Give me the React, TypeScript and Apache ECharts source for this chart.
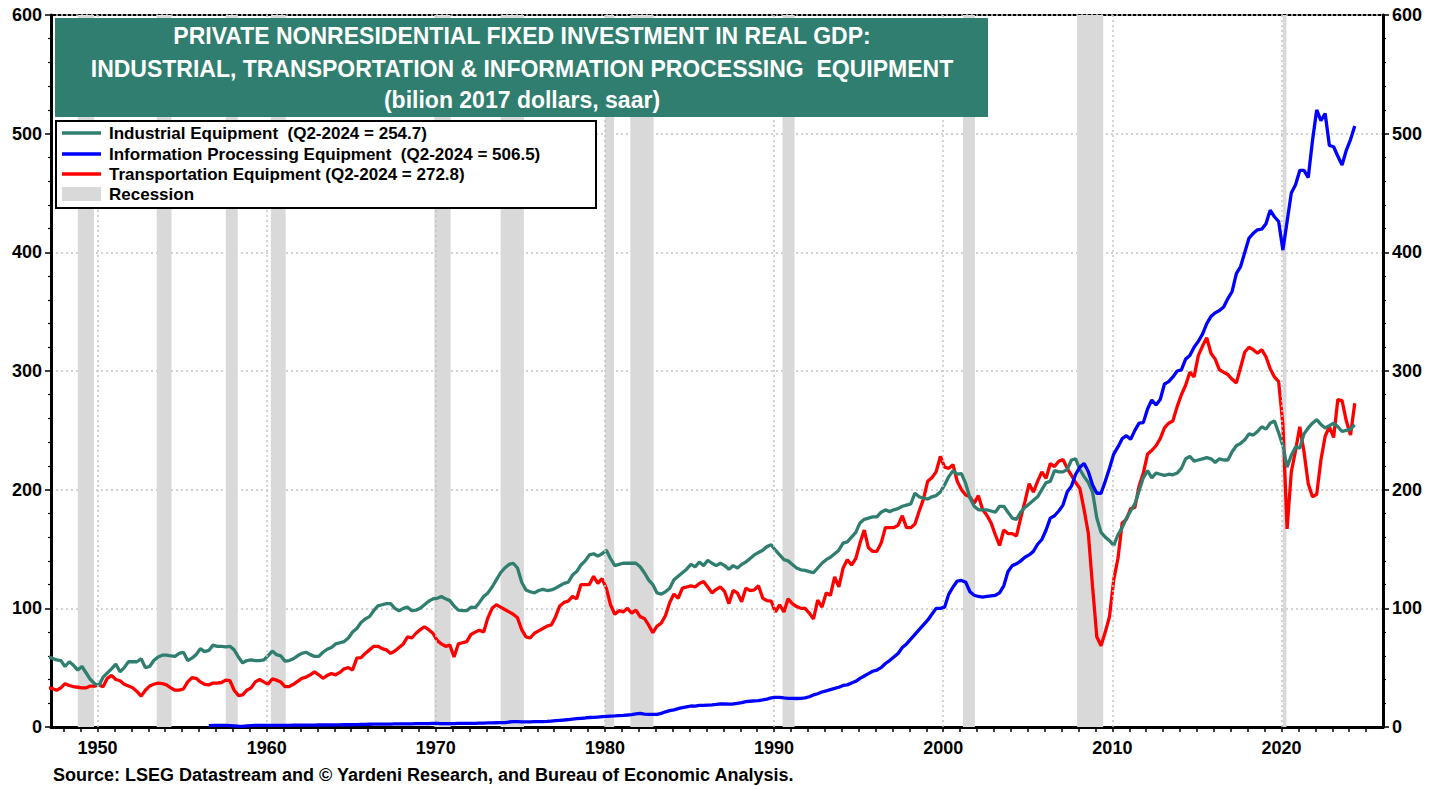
import React, { useEffect, useRef } from "react";
import * as echarts from "echarts";

// Quarterly values, 1947 Q1 .. 2024 Q2 (billion 2017 dollars, saar)
const INDUSTRIAL: number[] = [
  59, 58, 56.5, 56, 51, 55, 52, 48, 51, 45.5, 40, 36.5, 35, 42, 45.5, 49,
  53, 46.5, 50, 55, 55, 55, 57.5, 50, 51, 56, 59, 60.5, 60.5, 60, 59.5, 62,
  63, 56, 58, 61, 66, 63.5, 64.5, 69, 68, 68, 67.5, 68, 65, 59, 54, 56,
  56.5, 56, 56, 56.5, 60, 64, 61, 60, 55.5, 56, 57.5, 60, 62, 63, 61, 59.5,
  59.5, 63, 65.5, 67, 70, 71, 72, 75, 80, 83, 88, 91, 93, 98, 102, 103,
  104, 104, 100, 98, 100, 101, 98, 98.5, 100, 103, 106, 108, 108.5, 110, 108, 106.5,
  102, 98.5, 98, 98, 101, 100.5, 105, 110, 113, 118, 124, 130, 134, 137, 138, 134,
  122, 115.5, 114, 113, 115, 116, 115, 115.5, 117, 119, 121, 122, 128, 131, 136.5, 140,
  145, 146, 144, 146, 149, 142, 136, 137, 138, 138, 138, 138, 135, 130, 124, 120,
  113, 112, 114, 117, 124, 127, 130, 133, 137, 135, 139, 136, 140.5, 138, 136, 138,
  136, 133, 136, 134, 137, 139, 142, 145, 147, 149, 152, 153.5, 149, 145, 141, 140,
  137, 134, 132.5, 132, 131, 130, 134, 138, 141, 143, 146, 149, 155, 156, 160, 164,
  172, 175, 176, 177, 177, 181, 183, 181.5, 183, 184, 186, 187, 188, 197, 194, 193,
  192, 194, 195, 198, 204, 211, 216, 213, 213.5, 205, 193, 186, 183, 183, 183, 182,
  181, 186, 186, 181, 176, 175, 181, 185, 188, 191, 194, 200, 206, 207, 216, 215,
  215, 217, 225, 226, 217, 211, 206, 198, 176, 164, 160, 157, 153, 162, 168, 176,
  182, 188, 199, 210, 216, 210, 214, 213, 212, 213, 212.5, 214, 218, 226, 228, 224,
  225, 226, 227, 226, 223, 226, 225, 225, 232, 237, 239, 242, 247, 246, 249, 253,
  251, 256, 258, 248, 237, 219, 229, 236, 235, 247, 252, 256, 259, 255, 252, 254,
  256, 253, 249, 250, 251, 254.7,
];

const INFO_PROCESSING: (number | null)[] = [
  null, null, null, null, null, null, null, null, null, null, null, null,
  null, null, null, null, null, null, null, null, null, null, null, null,
  null, null, null, null, null, null, null, null, null, null, null, null,
  null, null, 1.2, 1.3, 1.3, 1.3, 1.3, 1.2, 1.0, 0.7, 0.6, 0.9,
  1.2, 1.3, 1.3, 1.3, 1.4, 1.4, 1.4, 1.4, 1.4, 1.4, 1.5, 1.5, 1.5, 1.6, 1.6, 1.6,
  1.7, 1.7, 1.7, 1.8, 1.8, 1.8, 1.9, 1.9, 2.0, 2.0, 2.1, 2.2, 2.3, 2.4, 2.5, 2.5,
  2.5, 2.5, 2.6, 2.6, 2.6, 2.7, 2.7, 2.8, 2.8, 2.9, 2.9, 3.0, 3.0, 2.9, 2.9, 2.9,
  2.9, 3.0, 3.0, 3.1, 3.0, 3.1, 3.2, 3.3, 3.4, 3.5, 3.6, 3.7, 3.7, 4.2, 4.5, 4.5,
  4.4, 4.3, 4.4, 4.5, 4.5, 4.6, 4.7, 5.0, 5.3, 5.6, 5.9, 6.3, 6.7, 7.0, 7.3, 7.6,
  8.0, 8.1, 8.4, 8.7, 9.0, 9.2, 9.3, 9.6, 9.8, 10.1, 10.5, 11.0, 11.5, 10.8, 10.7, 10.7,
  10.7, 11.5, 12.8, 13.8, 14.5, 15.5, 16.3, 17.0, 17.7, 17.6, 18.2, 18.3, 18.5, 18.7, 19.0, 19.4,
  19.4, 19.3, 19.4, 20.0, 20.5, 21.3, 21.7, 22.0, 22.3, 22.8, 23.5, 24.5, 25.0, 25.0, 24.5, 24.2,
  24.2, 24.0, 24.2, 24.5, 25.5, 27.0, 28.0, 29.5, 30.5, 31.5, 32.5, 33.5, 35.0, 35.5, 37.0, 38.5,
  41.0, 43.0, 45.0, 47.0, 48.0, 50.0, 53.5, 56.0, 59.0, 62.0, 67.0, 70.0, 74.0, 78.0, 82.0, 86.0,
  90.0, 95.0, 100.0, 100.0, 101.0, 112.0, 118.0, 123.0, 123.5, 122.0, 114.0, 111.0, 110.0, 109.5, 110.0, 110.5,
  111.0, 113.0, 119.0, 131.0, 136.0, 137.5, 140.0, 143.0, 145.0, 148.0, 154.0, 158.0, 166.0, 176.0, 178.0, 182.0,
  187.0, 198.0, 203.0, 213.0, 219.0, 222.0, 215.0, 204.0, 197.0, 197.0, 207.0, 218.0, 230.0, 236.0, 243.0, 245.5,
  242.4, 250.0, 256.0, 256.5, 268.0, 275.6, 271.3, 276.0, 289.0, 291.0, 295.0, 300.0, 301.0, 310.0, 313.0, 320.0,
  325.0, 331.0, 340.0, 346.0, 349.0, 351.0, 354.0, 361.0, 367.0, 382.0, 388.0, 400.0, 412.0, 416.0, 419.0, 419.5,
  424.0, 435.5, 430.0, 426.0, 402.0, 426.0, 450.0, 457.0, 469.0, 469.0, 463.0, 494.0, 520.0, 511.0, 517.0, 490.0,
  489.0, 481.0, 473.6, 486.0, 495.0, 506.5,
];

const TRANSPORTATION: number[] = [
  33, 32.5, 31, 33, 36.5, 35, 34, 33.5, 33, 33, 34.5, 34.5, 35.5, 34, 41, 43.5,
  40, 39, 36, 34.5, 33, 30, 26, 31, 34.5, 36, 37, 36.5, 35.5, 33, 31, 31,
  32, 38, 41.5, 41, 38, 36, 35.5, 37, 37, 37.5, 39.5, 39, 31, 26.5, 27, 31,
  33, 38, 40, 38, 36, 40.5, 39.5, 38, 34, 34, 36, 38.5, 41, 42, 44, 46.5,
  44, 41, 43.5, 45, 44, 46, 49, 50, 48, 58, 58.5, 62, 65, 68, 68, 66,
  65, 62, 64, 67, 70, 76, 75, 79, 82, 84.5, 82, 79, 73, 70, 68, 69,
  59, 70, 71, 72, 78, 80, 81.5, 80, 92, 100, 103, 101, 99, 97, 95, 92,
  82, 76, 75, 79, 81, 83, 85, 86, 93, 102, 105, 106, 110, 108, 120, 120,
  120, 127, 121, 125, 117, 103, 95, 98, 97, 100, 96, 98.5, 93, 91.5, 86, 79.5,
  85, 87.5, 94, 105, 112, 108.5, 117, 118, 119, 118, 121, 122.5, 118, 113, 116, 118,
  114, 104, 115, 113, 105.5, 117, 115, 115.5, 119, 108.5, 106.5, 106, 97, 103, 97, 108,
  104, 101.5, 100, 100, 96, 91, 107, 101, 113, 111, 126.5, 118, 134, 141, 136.5, 142,
  155, 166, 151, 148, 148, 155, 168, 168, 168, 170, 178, 168, 168, 171, 182, 192,
  207, 210, 215, 228, 219, 218, 221, 207, 200, 195.5, 194, 188.5, 195, 183, 178.5, 172,
  162, 153, 166, 163, 163, 161, 176, 190, 205, 198, 207, 215, 209.5, 222, 219.5, 224,
  225.5, 218, 212, 206, 201, 183, 163, 118, 76, 68.5, 80, 93, 124, 142, 172, 175,
  184, 185, 203, 214, 230, 233, 237, 243, 252, 256, 258, 270, 280, 288, 299, 295,
  313, 321, 328, 315, 310, 301, 299, 297, 293, 290, 303, 316, 320, 318, 315, 318,
  312, 302, 295, 291, 255, 167, 215, 233, 253, 232, 205, 194, 196, 225, 245, 253,
  244, 276, 275, 258, 246, 272.8,
];

const FIRST_YEAR = 1947;
const X_MIN = 1947.25;
const X_MAX = 2026;
const YEAR_LABELS = [1950, 1960, 1970, 1980, 1990, 2000, 2010, 2020];
const YEAR_TICKS: number[] = [];
for (let y = 1948; y <= 2025; y++) YEAR_TICKS.push(y);
const Y_MIN = 0;
const Y_MAX = 600;
const Y_STEP = 100;

// NBER recessions: [startYear, startMonth, endYear, endMonth]
const RECESSIONS: [number, number, number, number][] = [
  [1948, 11, 1949, 10],
  [1953, 7, 1954, 5],
  [1957, 8, 1958, 4],
  [1960, 4, 1961, 2],
  [1969, 12, 1970, 11],
  [1973, 11, 1975, 3],
  [1980, 1, 1980, 7],
  [1981, 7, 1982, 11],
  [1990, 7, 1991, 3],
  [2001, 3, 2001, 11],
  [2007, 12, 2009, 6],
  [2020, 2, 2020, 4],
];

const TITLE_LINES = [
  "PRIVATE NONRESIDENTIAL FIXED INVESTMENT IN REAL GDP:",
  "INDUSTRIAL, TRANSPORTATION & INFORMATION PROCESSING  EQUIPMENT",
  "(bilion 2017 dollars, saar)",
];
const LEGEND_ITEMS = [
  "Industrial Equipment  (Q2-2024 = 254.7)",
  "Information Processing Equipment  (Q2-2024 = 506.5)",
  "Transportation Equipment (Q2-2024 = 272.8)",
  "Recession",
];
const SOURCE =
  "Source: LSEG Datastream and \u00A9 Yardeni Research, and Bureau of Economic Analysis.";

const TEAL = "#2F7E6F";
const BLUE = "#0000FF";
const RED = "#FF0000";
const GRAY = "#D9D9D9";
const GRID = "#C4C4C4";
const FONT = '"Liberation Sans", Arial, Helvetica, sans-serif';

const toPairs = (vals: (number | null)[]) =>
  vals.map((v, i) => [FIRST_YEAR + i / 4 + 0.08, v]);

export default function App() {
  const ref = useRef<HTMLDivElement>(null);
  useEffect(() => {
    if (!ref.current) return;
    const chart = echarts.init(ref.current, undefined, { renderer: "svg" });
    const labelStyle = {
      color: "#000",
      fontWeight: "bold" as const,
      fontSize: 18,
      fontFamily: FONT,
    };
    const lineSeries = (name: string, data: (number | null)[], color: string, z: number) => ({
      name,
      type: "line",
      data: toPairs(data),
      showSymbol: false,
      symbol: "none",
      connectNulls: false,
      lineStyle: { color, width: 3.3 },
      z,
      silent: true,
    });
    const rows = [133, 154, 174, 194];
    const legendColors = [TEAL, BLUE, RED];
    const graphics: any[] = [
      {
        type: "rect",
        shape: { x: 55, y: 18, width: 933, height: 99 },
        style: { fill: TEAL },
        z: 100,
      },
      ...TITLE_LINES.map((t, i) => ({
        type: "text",
        x: 522,
        y: [36, 69, 100][i],
        z: 101,
        style: {
          text: t,
          fill: "#fff",
          font: `bold 23px ${FONT}`,
          textAlign: "center",
          textVerticalAlign: "middle",
          align: "center",
          verticalAlign: "middle",
        },
      })),
      {
        type: "rect",
        shape: { x: 56, y: 121, width: 540, height: 87 },
        style: { fill: "#fff", stroke: "#000", lineWidth: 2 },
        z: 100,
      },
      ...legendColors.map((c, i) => ({
        type: "line",
        shape: { x1: 62, y1: rows[i], x2: 101, y2: rows[i] },
        style: { stroke: c, lineWidth: 3.5 },
        z: 101,
      })),
      {
        type: "rect",
        shape: { x: 62, y: 187, width: 39, height: 14 },
        style: { fill: GRAY },
        z: 101,
      },
      ...LEGEND_ITEMS.map((t, i) => ({
        type: "text",
        x: 109,
        y: rows[i],
        z: 101,
        style: {
          text: t,
          fill: "#000",
          font: `bold 17px ${FONT}`,
          textAlign: "left",
          textVerticalAlign: "middle",
          align: "left",
          verticalAlign: "middle",
        },
      })),
      {
        type: "text",
        x: 53,
        y: 775,
        z: 101,
        style: {
          text: SOURCE,
          fill: "#000",
          font: `bold 18px ${FONT}`,
          textAlign: "left",
          textVerticalAlign: "middle",
          align: "left",
          verticalAlign: "middle",
        },
      },
    ];

    const yAxisBase = {
      type: "value",
      min: Y_MIN,
      max: Y_MAX,
      interval: Y_STEP,
      axisLine: { show: true, lineStyle: { color: "#000", width: 3 } },
      axisTick: { show: true, length: 6, lineStyle: { color: "#000", width: 1.5 } },
      minorTick: { show: true, splitNumber: 5, length: 3, lineStyle: { color: "#000", width: 1.2 } },
      axisLabel: { ...labelStyle, margin: 9 },
    };

    chart.setOption({
      animation: false,
      backgroundColor: "#fff",
      grid: {
        left: 51,
        right: 63,
        top: 15,
        bottom: 63,
        show: true,
        borderColor: "#000",
        borderWidth: 2,
        backgroundColor: "transparent",
      },
      xAxis: {
        type: "value",
        min: X_MIN,
        max: X_MAX,
        axisLine: { show: true, onZero: false, lineStyle: { color: "#000", width: 3 } },
        axisTick: {
          show: true,
          length: 5,
          customValues: YEAR_TICKS,
          lineStyle: { color: "#000", width: 1.5 },
        },
        axisLabel: { ...labelStyle, margin: 12, customValues: YEAR_LABELS, formatter: (v: number) => String(Math.round(v)) },
        splitLine: { show: false },
      },
      yAxis: [
        {
          ...yAxisBase,
          position: "left",
          splitLine: { show: true, lineStyle: { color: GRID, width: 1.5, type: [2, 3] } },
        },
        {
          ...yAxisBase,
          position: "right",
          splitLine: { show: false },
        },
      ],
      graphic: { elements: graphics },
      series: [
        {
          type: "line",
          data: [],
          z: 1,
          silent: true,
          markLine: {
            silent: true,
            symbol: ["none", "none"],
            label: { show: false },
            lineStyle: { color: GRID, width: 1.5, type: [2, 3] },
            data: YEAR_LABELS.map((y) => ({ xAxis: y })),
          },
        },
        {
          type: "line",
          data: [],
          z: 2,
          silent: true,
          markArea: {
            silent: true,
            itemStyle: { color: GRAY },
            data: RECESSIONS.map(([sy, sm, ey, em]) => [
              { xAxis: sy + (sm - 1) / 12 },
              { xAxis: ey + (em - 0.5) / 12 },
            ]),
          },
        },
        lineSeries("Transportation Equipment", TRANSPORTATION, RED, 3),
        lineSeries("Industrial Equipment", INDUSTRIAL, TEAL, 4),
        lineSeries("Information Processing Equipment", INFO_PROCESSING, BLUE, 5),
      ],
    });
    return () => chart.dispose();
  }, []);
  return (
    <div
      ref={ref}
      style={{ position: "fixed", left: 0, top: 0, width: 1446, height: 790, background: "#fff" }}
    />
  );
}
